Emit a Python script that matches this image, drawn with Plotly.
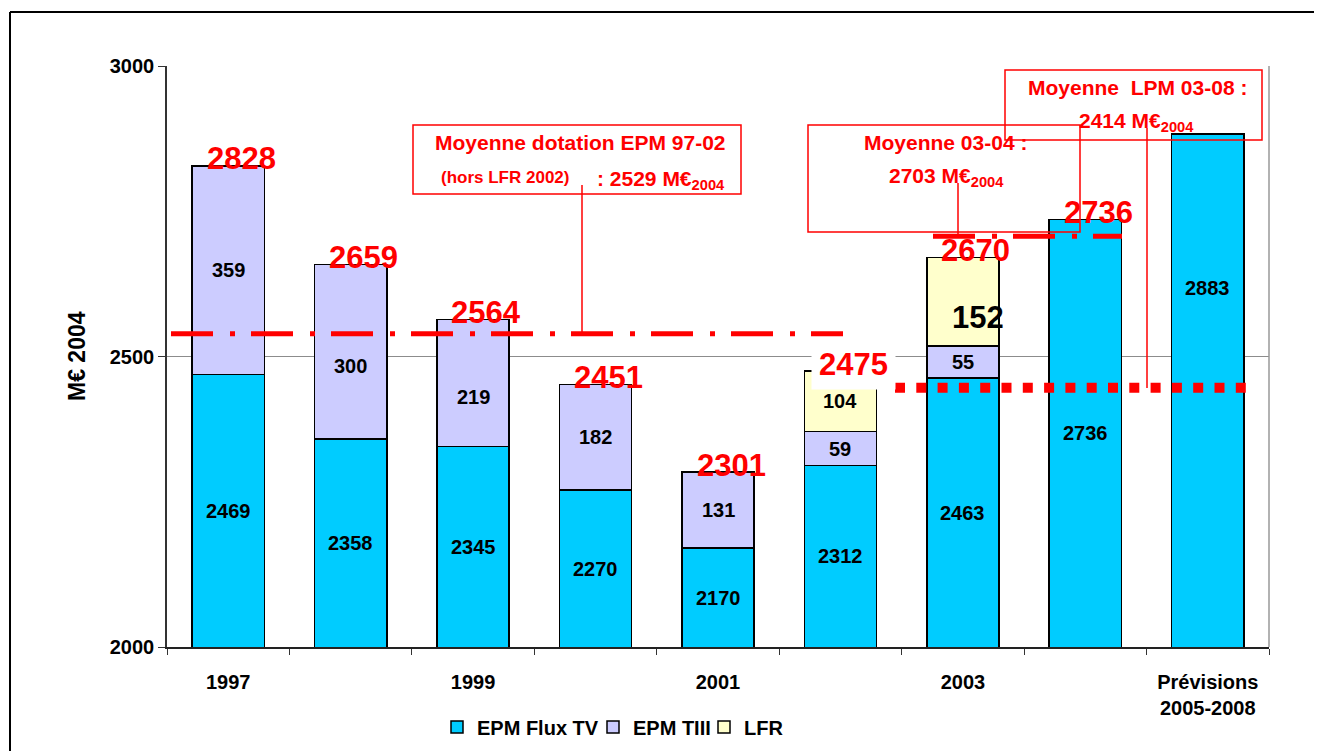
import plotly.graph_objects as go

# ---------------- data ----------------
categories = ["1997", "1998", "1999", "2000", "2001", "2002", "2003", "2004", "Prévisions 2005-2008"]
tick_positions = [0, 2, 4, 6, 8]
tick_labels = ["1997", "1999", "2001", "2003", "Prévisions<br>2005-2008"]

flux_tv = [2469, 2358, 2345, 2270, 2170, 2312, 2463, 2736, 2883]
tiii = [359, 300, 219, 182, 131, 59, 55, None, None]
lfr = [None, None, None, None, None, 104, 152, None, None]
totals = [2828, 2659, 2564, 2451, 2301, 2475, 2670, 2736, None]

series_names = ["EPM Flux TV", "EPM TIII", "LFR"]
series_values = [flux_tv, tiii, lfr]

# mean reference lines (level as drawn on the chart) and their captions
mean_9702_level = 2539
mean_0304_level = 2707
mean_lpm_level = 2446
mean_9702_text = "2529"
mean_0304_text = "2703"
mean_lpm_text = "2414"

Y_MIN, Y_MAX = 2000, 3000

# ---------------- style / layout ----------------
OFF = 8  # page offset of the figure div
W, H = 1314, 743
ML, MR, MT, MB = 159, 53, 58, 104
PW, PH = W - ML - MR, H - MT - MB
FONT = "Liberation Sans, Arial, sans-serif"
RED = "#FF0000"
colors = ["#00CCFF", "#CCCCFF", "#FFFFCC"]
legend_ids = ["legend", "legend2", "legend3"]
legend_x_px = [437, 593, 704]


def fx(px):  # page pixel -> paper x
    return (px - OFF - ML) / PW


def fy(py):  # page pixel -> paper y
    return (H - MB - (py - OFF)) / PH


fig = go.Figure()
for name, vals, col, lid in zip(series_names, series_values, colors, legend_ids):
    fig.add_trace(go.Bar(
        x=list(range(len(categories))), y=vals, name=name, legend=lid,
        marker=dict(color=col, line=dict(color="black", width=1.5)),
        hoverinfo="skip",
    ))

annotations = []
shapes = []

# segment labels (centred in the visible part of each segment)
label_offsets = {(1, 1): (0, -14), (1, 2): (0, -14), (2, 6): (15, -16), (0, 8): (0, 102)}
label_sizes = {(2, 6): 31}
base = [0] * len(categories)
for s, vals in enumerate(series_values):
    for i, v in enumerate(vals):
        if v is None:
            continue
        lo = max(base[i], Y_MIN)
        hi = base[i] + v
        dx, dy = label_offsets.get((s, i), (0, 0))
        annotations.append(dict(
            x=i, y=(lo + hi) / 2, xref="x", yref="y", text=str(v), showarrow=False,
            xshift=dx, yshift=dy,
            font=dict(family=FONT, size=label_sizes.get((s, i), 20), color="black", weight="bold"),
        ))
        base[i] += v

# total labels (red)
for i, t in enumerate(totals):
    if t is None:
        continue
    special = (i == 5)
    annotations.append(dict(
        x=i, y=t, xref="x", yref="y", text=str(t), showarrow=False,
        xshift=13, yshift=7, yanchor="middle",
        bgcolor="white" if special else None, borderpad=7 if special else 0,
        font=dict(family=FONT, size=31, color=RED, weight="bold"),
    ))

# y axis title
annotations.append(dict(
    x=fx(77), y=fy(356), xref="paper", yref="paper", text="M€ 2004", textangle=-90,
    showarrow=False, xanchor="center", yanchor="middle",
    font=dict(family=FONT, size=23, color="black", weight="bold"),
))

bf = dict(family=FONT, size=21, color=RED, weight="bold")
sf = dict(family=FONT, size=17, color=RED, weight="bold")


def note(x, y, text, font, xanchor="center"):
    annotations.append(dict(x=fx(x), y=fy(y), xref="paper", yref="paper", text=text,
                            showarrow=False, font=font, xanchor=xanchor, yanchor="middle"))


# box 1
note(580, 142, "Moyenne dotation EPM 97-02", bf)
note(505, 177, "(hors LFR 2002)", sf)
note(595, 180, ": " + mean_9702_text + " M€<sub>2004</sub>", bf, xanchor="left")
# box 2
note(945, 142, "Moyenne 03-04 :", bf)
note(946, 177, mean_0304_text + " M€<sub>2004</sub>", bf)
# box 3
note(1137, 87, "Moyenne  LPM 03-08 :", bf)
note(1136, 122, mean_lpm_text + " M€<sub>2004</sub>", bf)


def rect(x0, y0, x1, y1):
    shapes.append(dict(type="rect", xref="paper", yref="paper", x0=fx(x0), x1=fx(x1),
                       y0=fy(y1), y1=fy(y0), line=dict(color=RED, width=1.5)))


def seg(x0, y0, x1, y1, color, width, dash="solid", yref_data=False):
    shapes.append(dict(type="line", xref="paper", yref="y" if yref_data else "paper",
                       x0=fx(x0), x1=fx(x1),
                       y0=y0 if yref_data else fy(y0), y1=y1 if yref_data else fy(y1),
                       line=dict(color=color, width=width, dash=dash)))


rect(413, 125, 741, 194)
rect(808, 125, 1080, 232)
rect(1005, 70, 1262, 140)

# mean lines
seg(171, mean_9702_level, 843, mean_9702_level, RED, 5, "42px,17px,5px,16px", True)
seg(933, mean_0304_level, 1122, mean_0304_level, RED, 5, "42px,17px,5px,16px", True)
seg(895, mean_lpm_level, 1250, mean_lpm_level, RED, 10, "10px,11.3px", True)

# leaders
seg(582, 185, 582, 334, RED, 1.5)
seg(958, 183, 958, 236, RED, 1.5)
seg(1147, 128, 1147, 388, RED, 1.5)

# plot area border (right) and outer frame
seg(1269, 66, 1269, 647, "#999999", 1.5)
seg(10, 12, 1330, 12, "black", 2)
seg(10, 12, 10, 760, "black", 2)

legend_style = dict(orientation="h", xanchor="left", y=fy(727), yanchor="middle",
                    font=dict(family=FONT, size=20, color="black", weight="bold"),
                    itemwidth=30, bgcolor="rgba(0,0,0,0)", borderwidth=0)
legends = {lid: dict(legend_style, x=fx(lx)) for lid, lx in zip(legend_ids, legend_x_px)}

fig.update_layout(
    width=W, height=H,
    margin=dict(l=ML, r=MR, t=MT, b=MB, autoexpand=False),
    barmode="stack", bargap=0.41,
    paper_bgcolor="white", plot_bgcolor="white",
    font=dict(family=FONT, color="black"),
    showlegend=True,
    annotations=annotations,
    shapes=shapes,
    xaxis=dict(
        range=[-0.5, 8.5], tickvals=tick_positions, ticktext=tick_labels,
        ticks="", showgrid=False, zeroline=False, automargin=False,
        showline=True, linecolor="#222222", linewidth=1.5,
        tickfont=dict(family=FONT, size=20, color="black", weight="bold"),
        ticklabelstandoff=16,
        minor=dict(tick0=-0.5, dtick=1, ticks="outside", ticklen=6, tickcolor="#333333",
                   tickwidth=1, showgrid=False),
    ),
    yaxis=dict(
        range=[Y_MIN, Y_MAX], tickvals=[2000, 2500, 3000], ticks="outside", ticklen=7,
        tickcolor="#333333", showgrid=True, gridcolor="#8c8c8c", gridwidth=1.2,
        zeroline=False, showline=True, linecolor="#333333", linewidth=1.5, automargin=False,
        tickfont=dict(family=FONT, size=20, color="black", weight="bold"),
    ),
    **legends,
)

fig.write_html("out.html")
